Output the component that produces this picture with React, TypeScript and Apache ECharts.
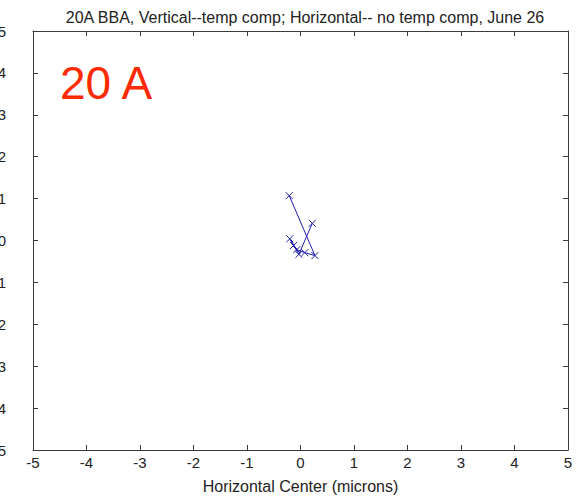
import React, { useEffect, useRef } from "react";
import * as echarts from "echarts";

const titleText = "20A BBA, Vertical--temp comp; Horizontal-- no temp comp, June 26";
const xAxisName = "Horizontal Center (microns)";
const overlayLabel = "20 A";
const xPositions = [0.22, -0.03, -0.13, -0.2, -0.07, 0.08, 0.27, -0.21];
const yPositions = [0.41, -0.33, -0.12, 0.04, -0.22, -0.29, -0.36, 1.07];

export default function App() {
  const ref = useRef<HTMLDivElement>(null);
  useEffect(() => {
    if (!ref.current) return;
    const chart = echarts.init(ref.current, undefined, { renderer: "svg" });
    const data = xPositions.map((x, i) => [x, yPositions[i]]);
    const axisLineStyle = { color: "#3a3a3a", width: 1 };
    const font = "Liberation Sans";
    const line = { show: true, onZero: false, lineStyle: axisLineStyle };
    const tick = { show: true, inside: true, length: 5, lineStyle: axisLineStyle };
    chart.setOption({
      animation: false,
      backgroundColor: "#ffffff",
      title: {
        text: titleText,
        left: 300,
        top: 4,
        textAlign: "center",
        textStyle: { fontFamily: font, fontSize: 16, fontWeight: "normal", color: "#222" },
      },
      grid: {
        left: 33,
        right: 14,
        top: 31,
        bottom: 47,
        containLabel: false,
        outerBoundsMode: "none",
      },
      xAxis: [
        {
          type: "value",
          min: -5,
          max: 5,
          interval: 1,
          position: "bottom",
          name: xAxisName,
          nameLocation: "middle",
          nameGap: 28,
          nameTextStyle: { fontFamily: font, fontSize: 16, color: "#222" },
          axisLine: line,
          axisTick: tick,
          axisLabel: { fontFamily: font, fontSize: 15, color: "#222", margin: 5 },
          splitLine: { show: false },
        },
        {
          type: "value",
          min: -5,
          max: 5,
          interval: 1,
          position: "top",
          axisLine: line,
          axisTick: tick,
          axisLabel: { show: false },
          splitLine: { show: false },
        },
      ],
      yAxis: [
        {
          type: "value",
          min: -5,
          max: 5,
          interval: 1,
          position: "left",
          axisLine: line,
          axisTick: tick,
          axisLabel: { fontFamily: font, fontSize: 15, color: "#222", margin: 27 },
          splitLine: { show: false },
        },
        {
          type: "value",
          min: -5,
          max: 5,
          interval: 1,
          position: "right",
          axisLine: line,
          axisTick: tick,
          axisLabel: { show: false },
          splitLine: { show: false },
        },
      ],
      series: [
        {
          type: "line",
          data,
          xAxisIndex: 0,
          yAxisIndex: 0,
          symbol: "path://M0,0L10,10M10,0L0,10",
          symbolSize: 7,
          showAllSymbol: true,
          lineStyle: { color: "#1f1fb0", width: 1 },
          itemStyle: { color: "none", borderColor: "#1f1fb0", borderWidth: 1 },
        },
      ],
      graphic: [
        {
          type: "text",
          left: 60,
          top: 60,
          style: {
            text: overlayLabel,
            fontFamily: font,
            fontSize: 46,
            fill: "#ff2a00",
          },
        },
      ],
    });
    return () => chart.dispose();
  }, []);
  return (
    <div
      ref={ref}
      style={{ position: "absolute", left: 0, top: 0, width: 582, height: 497 }}
    />
  );
}
